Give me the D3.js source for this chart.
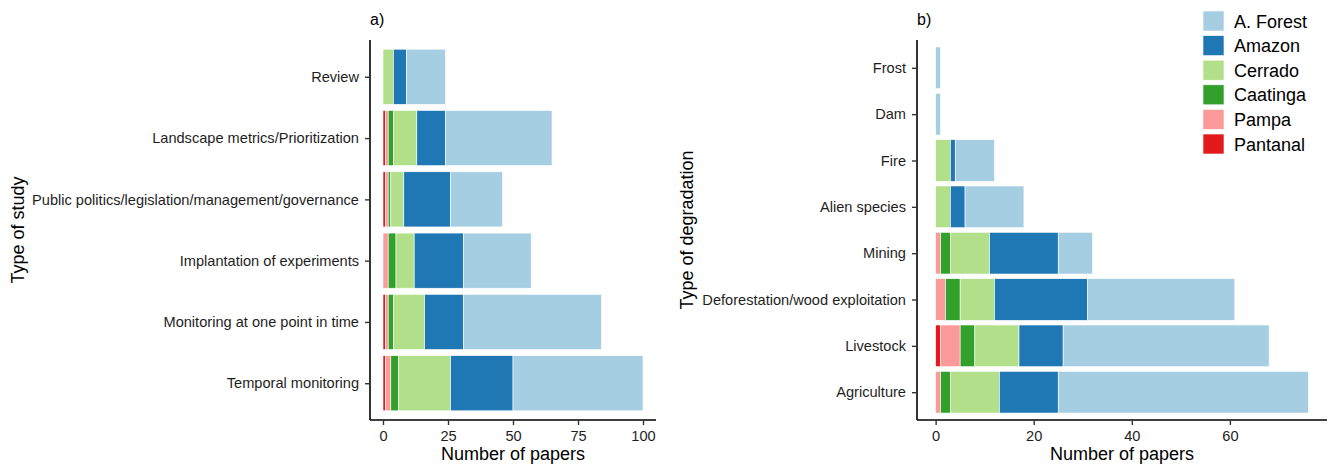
<!DOCTYPE html>
<html>
<head>
<meta charset="utf-8">
<script src="https://cdn.jsdelivr.net/npm/d3@7"></script>
<style>
  body { margin: 0; background: #fff; }
  svg { display: block; font-family: "Liberation Sans", Arial, sans-serif; }
</style>
</head>
<body>
<svg id="chart" width="1329" height="468"></svg>
<script>
// ---- data ----
const biomes = ["Pantanal", "Pampa", "Caatinga", "Cerrado", "Amazon", "A. Forest"];

const studyTypes = ["Review", "Landscape metrics/Prioritization",
  "Public politics/legislation/management/governance", "Implantation of experiments",
  "Monitoring at one point in time", "Temporal monitoring"];
const studyPantanal = [0, 1, 1, 0, 1, 1];
const studyPampa    = [0, 1, 1, 2, 1, 2];
const studyCaatinga = [0, 2, 1, 3, 2, 3];
const studyCerrado  = [4, 9, 5, 7, 12, 20];
const studyAmazon   = [5, 11, 18, 19, 15, 24];
const studyForest   = [15, 41, 20, 26, 53, 50];

const degradTypes = ["Frost", "Dam", "Fire", "Alien species", "Mining",
  "Deforestation/wood exploitation", "Livestock", "Agriculture"];
const degPantanal = [0, 0, 0, 0, 0, 0, 1, 0];
const degPampa    = [0, 0, 0, 0, 1, 2, 4, 1];
const degCaatinga = [0, 0, 0, 0, 2, 3, 3, 2];
const degCerrado  = [0, 0, 3, 3, 8, 7, 9, 10];
const degAmazon   = [0, 0, 1, 3, 14, 19, 9, 12];
const degForest   = [1, 1, 8, 12, 7, 30, 42, 51];

const ticksA = [0, 25, 50, 75, 100];
const ticksB = [0, 20, 40, 60];

// ---- styles ----
const palette = { "Pantanal": "#E31A1C", "Pampa": "#FB9A99", "Caatinga": "#33A02C",
  "Cerrado": "#B2DF8A", "Amazon": "#1F78B4", "A. Forest": "#A6CEE3" };

function rows(cats, series) {
  return cats.map((c, i) => {
    const r = { cat: c };
    biomes.forEach((b, j) => r[b] = series[j][i]);
    return r;
  });
}

const svg = d3.select("#chart");

function panel(opts) {
  const data = rows(opts.cats, opts.series);
  const stack = d3.stack().keys(biomes)(data);
  const maxV = d3.max(data, d => d3.sum(biomes, b => d[b]));
  const pad = maxV * 0.05;
  const x = d3.scaleLinear().domain([-pad, maxV + pad]).range([opts.x0, opts.x1]);
  const y = d3.scalePoint().domain(opts.cats).range([opts.y0, opts.y1]).padding(0.6);
  const bh = y.step() * 0.9;

  const g = svg.append("g");
  g.selectAll("g.layer").data(stack).join("g")
    .attr("fill", s => palette[s.key])
    .selectAll("rect").data(s => s.filter(d => d[1] - d[0] > 0)).join("rect")
    .attr("x", d => x(d[0]))
    .attr("width", d => x(d[1]) - x(d[0]))
    .attr("y", d => y(d.data.cat) - bh / 2)
    .attr("height", bh)
    .attr("stroke", "#fff")
    .attr("stroke-width", 0.6);

  const xa = g.append("g").attr("transform", `translate(0,${opts.y1})`)
    .call(d3.axisBottom(x).tickValues(opts.ticks).tickSize(5).tickPadding(6).tickSizeOuter(0));
  const ya = g.append("g").attr("transform", `translate(${opts.x0},0)`)
    .call(d3.axisLeft(y).tickSize(5).tickPadding(6).tickSizeOuter(0));
  [xa, ya].forEach(a => {
    a.select(".domain").attr("stroke", "#000").attr("stroke-width", 1.6);
    a.selectAll(".tick line").attr("stroke", "#333").attr("stroke-width", 1.4);
    a.selectAll(".tick text").attr("fill", "#1e1e1e").attr("font-size", 14.6)
      .attr("font-family", "Liberation Sans, Arial, sans-serif");
  });
  xa.select(".domain").attr("d", `M${opts.x0},0H${opts.x1}`);
  ya.select(".domain").attr("d", `M0,${opts.y0}V${opts.y1}`);

  g.append("text").attr("x", (opts.x0 + opts.x1) / 2).attr("y", 460)
    .attr("text-anchor", "middle").attr("font-size", 18).attr("fill", "#000")
    .text("Number of papers");
  g.append("text")
    .attr("transform", `translate(${opts.titleX},${(opts.y0 + opts.y1) / 2}) rotate(-90)`)
    .attr("text-anchor", "middle").attr("font-size", 18).attr("fill", "#000")
    .text(opts.yTitle);
  g.append("text").attr("x", opts.x0).attr("y", 25)
    .attr("font-size", 16).attr("fill", "#000").text(opts.tag);
}

panel({ cats: studyTypes,
  series: [studyPantanal, studyPampa, studyCaatinga, studyCerrado, studyAmazon, studyForest],
  x0: 370, x1: 656, y0: 40, y1: 420, ticks: ticksA,
  yTitle: "Type of study", titleX: 24, tag: "a)" });

panel({ cats: degradTypes,
  series: [degPantanal, degPampa, degCaatinga, degCerrado, degAmazon, degForest],
  x0: 917, x1: 1327, y0: 40, y1: 420, ticks: ticksB,
  yTitle: "Type of degradation", titleX: 693, tag: "b)" });

// legend
const legendOrder = biomes.slice().reverse();
const lg = svg.append("g").attr("transform", "translate(1203,11)");
const li = lg.selectAll("g").data(legendOrder).join("g")
  .attr("transform", (d, i) => `translate(0,${i * 24.6})`);
li.append("rect").attr("width", 21).attr("height", 20)
  .attr("fill", d => palette[d]).attr("stroke", "#fff").attr("stroke-width", 0.6);
li.append("text").attr("x", 31).attr("y", 16.5).attr("font-size", 18).attr("fill", "#000")
  .text(d => d);
</script>
</body>
</html>
